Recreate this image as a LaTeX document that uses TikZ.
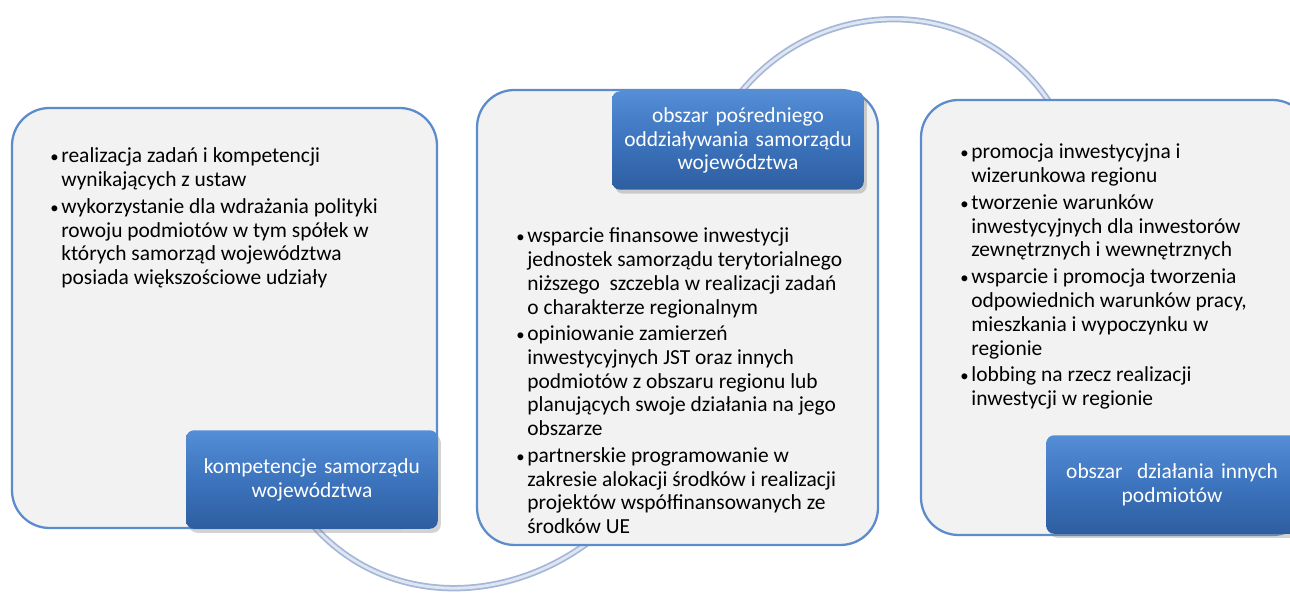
\documentclass[tikz,border=0pt]{standalone}
\usepackage{fontspec}
\setmainfont{Carlito}
\usetikzlibrary{positioning,shadows,backgrounds}

\definecolor{ramkaNiebieska}{RGB}{92,140,204}
\definecolor{tloRamki}{RGB}{242,242,242}
\definecolor{etykietaGora}{RGB}{84,142,214}
\definecolor{etykietaSrodek}{RGB}{60,116,190}
\definecolor{etykietaDol}{RGB}{46,94,160}
\definecolor{lukZewn}{RGB}{165,183,214}
\definecolor{lukWewn}{RGB}{222,230,243}

\newcommand{\pkt}{\makebox[0.22cm][l]{\fontsize{9.5}{9.5}\selectfont\textbullet}}
\newcommand{\wc}{\hspace*{0.22cm}}

\tikzset{
  ramka/.style={draw=ramkaNiebieska, line width=1.3pt, fill=tloRamki, rounded corners=0.75cm},
  etykieta/.style={rounded corners=0.16cm, top color=etykietaGora, bottom color=etykietaDol,
    middle color=etykietaSrodek, text=white, minimum width=5cm, minimum height=1.97cm,
    text width=4.8cm, align=center,
    drop shadow={shadow xshift=0.06cm, shadow yshift=-0.08cm, opacity=0.35}},
  lista/.style={anchor=north west, inner sep=0pt, align=left},
  luk/.style={draw=lukZewn, double=lukWewn, double distance=1.6pt, line width=1pt}
}

\begin{document}
\begin{tikzpicture}[font=\fontsize{12.2}{13.55}\selectfont]
  \useasboundingbox (0,0) rectangle (25.8,11.9);
  \clip (0,0) rectangle (25.8,11.9);
  % Boxes
  \node[ramka, minimum width=8.5cm, minimum height=8.4cm] (ramka1) at (4.49,5.54) {};
  \node[ramka, minimum width=8.02cm, minimum height=9.1cm] (ramka2) at (13.55,5.55) {};
  \node[ramka, minimum width=7.78cm, minimum height=8.7cm] (ramka3) at (22.31,5.55) {};
  % Labels
  \node[etykieta, anchor=south east] (etykieta1) at (ramka1.south east) {kompetencje samorządu\\województwa};
  \node[etykieta, below left=0cm and 0.3cm of ramka2.north east, yshift=-0.04cm] (etykieta2) {obszar pośredniego\\oddziaływania samorządu\\województwa};
  \node[etykieta, anchor=south west] (etykieta3) at ([xshift=2.52cm, yshift=0.04cm]ramka3.south west) {obszar\ \ działania innych\\podmiotów};
  % Lists
  \node[lista] (lista1) at (1.0,8.95) {\pkt realizacja zadań i kompetencji\\\wc wynikających z ustaw\\[1.7pt]
    \pkt wykorzystanie dla wdrażania polityki\\\wc rowoju podmiotów w tym spółek w\\\wc których samorząd województwa\\\wc posiada większościowe udziały};
  \node[lista] (lista2) at (10.32,7.35) {\pkt wsparcie finansowe inwestycji\\\wc jednostek samorządu terytorialnego\\\wc niższego\ \ szczebla w realizacji zadań\\\wc o charakterze regionalnym\\[1.5pt]
    \pkt opiniowanie zamierzeń\\\wc inwestycyjnych JST oraz innych\\\wc podmiotów z obszaru regionu lub\\\wc planujących swoje działania na jego\\\wc obszarze\\[1.5pt]
    \pkt partnerskie programowanie w\\\wc zakresie alokacji środków i realizacji\\\wc projektów współfinansowanych ze\\\wc środków UE};
  \node[lista] (lista3) at (19.2,9.03) {\pkt promocja inwestycyjna i\\\wc wizerunkowa regionu\\[1.7pt]
    \pkt tworzenie warunków\\\wc inwestycyjnych dla inwestorów\\\wc zewnętrznych i wewnętrznych\\[1.7pt]
    \pkt wsparcie i promocja tworzenia\\\wc odpowiednich warunków pracy,\\\wc mieszkania i wypoczynku w\\\wc regionie\\[1.7pt]
    \pkt lobbing na rzecz realizacji\\\wc inwestycji w regionie};
  % Arcs behind the boxes
  \begin{scope}[on background layer]
    \draw[luk] ([yshift=0.1cm]etykieta1.south) to[out=-49, in=217] ([xshift=-1.75cm, yshift=0.1cm]ramka2.south);
    \draw[luk] ([yshift=-0.1cm]etykieta2.north) to[out=52, in=123, looseness=1.08] ([xshift=-1.3cm, yshift=-0.1cm]ramka3.north);
  \end{scope}
\end{tikzpicture}
\end{document}
